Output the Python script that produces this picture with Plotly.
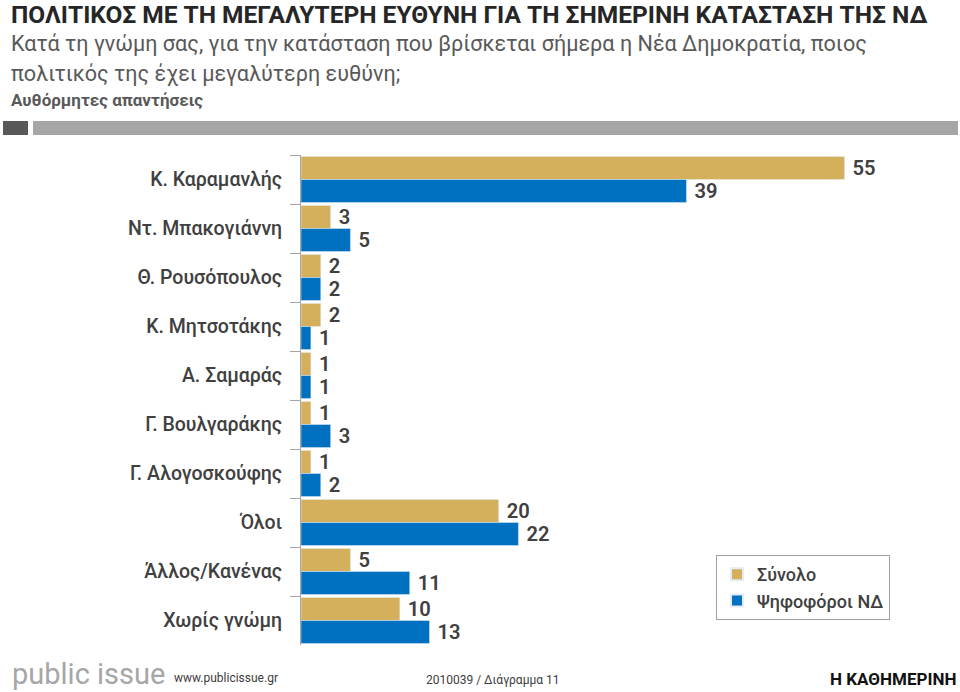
import plotly.graph_objects as go

categories = ["Κ. Καραμανλής", "Ντ. Μπακογιάννη", "Θ. Ρουσόπουλος", "Κ. Μητσοτάκης",
              "Α. Σαμαράς", "Γ. Βουλγαράκης", "Γ. Αλογοσκούφης", "Όλοι",
              "Άλλος/Κανένας", "Χωρίς γνώμη"]
synolo = [55, 3, 2, 2, 1, 1, 1, 20, 5, 10]
nd_voters = [39, 5, 2, 1, 1, 3, 2, 22, 11, 13]
series_names = ["Σύνολο", "Ψηφοφόροι ΝΔ"]

W, H = 960, 692
L, R, T, B = 301, 894, 155, 645

def px(x):
    return (x - L) / (R - L)

def py(y):
    return (B - y) / (B - T)

TAN = "#D4AF5C"
BLUE = "#0070C0"
TXT = "#404040"
FONT = "Roboto, Noto Sans, sans-serif"

fig = go.Figure()
for vals, name, col in [(synolo, series_names[0], TAN), (nd_voters, series_names[1], BLUE)]:
    fig.add_trace(go.Bar(y=categories, x=vals, orientation="h", name=name,
                         marker=dict(color=col), texttemplate=" %{x}", textposition="outside",
                         textfont=dict(size=21, color=TXT, family=FONT, weight=600),
                         cliponaxis=False))

fig.update_layout(
    width=W, height=H,
    margin=dict(l=L, r=W - R, t=T, b=H - B),
    paper_bgcolor="white", plot_bgcolor="white",
    barmode="group", bargap=0.06, bargroupgap=0,
    font=dict(family=FONT, color=TXT),
    showlegend=True,
    legend=dict(x=px(716), y=py(555), xanchor="left", yanchor="top",
                bordercolor="#A0A0A0", borderwidth=1, traceorder="normal",
                font=dict(size=18, color=TXT, family=FONT, weight=500), bgcolor="white",
                itemsizing="constant", itemwidth=30, tracegroupgap=4),
    xaxis=dict(range=[0, 60], visible=False, fixedrange=True),
    yaxis=dict(autorange="reversed", showline=True, linecolor="#A6A6A6", linewidth=1,
               ticks="outside", tickson="boundaries", ticklen=10, tickcolor="#A6A6A6",
               ticklabelstandoff=14, fixedrange=True,
               tickfont=dict(size=19.5, color=TXT, family=FONT, weight=500)),
)

anns = [
    dict(text="<b>ΠΟΛΙΤΙΚΟΣ ΜΕ ΤΗ ΜΕΓΑΛΥΤΕΡΗ ΕΥΘΥΝΗ ΓΙΑ ΤΗ ΣΗΜΕΡΙΝΗ ΚΑΤΑΣΤΑΣΗ ΤΗΣ ΝΔ</b>",
         x=px(9), y=py(14), size=24.5, color="#262626"),
    dict(text="Κατά τη γνώμη σας, για την κατάσταση που βρίσκεται σήμερα η Νέα Δημοκρατία, ποιος",
         x=px(9), y=py(44), size=21.6, color="#595959"),
    dict(text="πολιτικός της έχει μεγαλύτερη ευθύνη;",
         x=px(9), y=py(73), size=21.6, color="#595959"),
    dict(text="<b>Αυθόρμητες απαντήσεις</b>",
         x=px(9), y=py(100), size=17, color="#595959"),
    dict(text="public issue", x=px(10), y=py(674), size=29, color="#A6A6A6"),
    dict(text="www.publicissue.gr", x=px(172), y=py(678), size=12, color="#404040"),
    dict(text="2010039 / Διάγραμμα 11", x=px(424), y=py(680), size=12, color="#404040"),
    dict(text="<b>Η ΚΑΘΗΜΕΡΙΝΗ</b>", x=px(828), y=py(679), size=17, color="#111111"),
]
for a in anns:
    fig.add_annotation(text=a["text"], x=a["x"], y=a["y"], xref="paper", yref="paper",
                       xanchor="left", yanchor="middle", showarrow=False,
                       font=dict(size=a["size"], color=a["color"], family=FONT))

fig.add_shape(type="rect", xref="paper", yref="paper", x0=px(3), x1=px(28), y0=py(121), y1=py(135),
              fillcolor="#595959", line=dict(width=0))
fig.add_shape(type="rect", xref="paper", yref="paper", x0=px(33), x1=px(958), y0=py(121), y1=py(135),
              fillcolor="#A6A6A6", line=dict(width=0))

fig.write_html("out.html", config={"displayModeBar": False},
               post_script="document.body.style.margin='0';")
